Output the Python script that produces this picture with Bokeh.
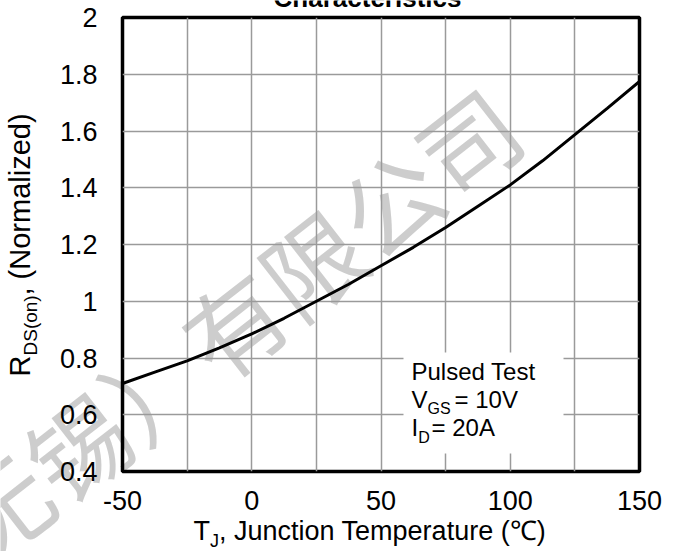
from bokeh.plotting import figure
from bokeh.models import FixedTicker, Label
from bokeh.embed import file_html
from bokeh.resources import INLINE

# ---- data ----
temp_c = [-50, -37.5, -25, -12.5, 0, 12.5, 25, 37.5, 50, 62.5, 75, 87.5, 100, 112.5, 125, 137.5, 150]
rds_norm = [0.71, 0.75, 0.79, 0.836, 0.885, 0.94, 1.0, 1.06, 1.125, 1.19, 1.26, 1.335, 1.41, 1.495, 1.587, 1.68, 1.775]

x_ticks = [-50, 0, 50, 100, 150]
x_tick_labels = ["-50", "0", "50", "100", "150"]
x_grid = [-50, -25, 0, 25, 50, 75, 100, 125, 150]
y_ticks = [0.4, 0.6, 0.8, 1.0, 1.2, 1.4, 1.6, 1.8, 2.0]
y_tick_labels = ["0.4", "0.6", "0.8", "1", "1.2", "1.4", "1.6", "1.8", "2"]

title_text = "Characteristics"
legend_lines = ["Pulsed Test", "V", "GS", "= 10V", "I", "D", "= 20A"]
x_label_parts = ["T", "J", ", Junction Temperature (℃)"]
y_label_parts = ["R", "DS(on)", ", (Normalized)"]
watermark = "无锡）有限公司"

# ---- layout (canvas pixels) ----
W, H = 680, 551
FL, FR, FT, FB = 122, 639, 17, 471
X0, X1, Y0, Y1 = -50, 150, 0.4, 2.0
FONT = "Liberation Sans"
BL = 0.38  # measured drop of the drawn baseline below a Label anchor, in em


def dx(px):
    return X0 + (px - FL) / (FR - FL) * (X1 - X0)


def dy(py):
    return Y1 - (py - FT) / (FB - FT) * (Y1 - Y0)


# ---------- base canvas: watermark and texts outside the plot frame ----------
ov = figure(width=W, height=H, x_range=(0, W), y_range=(H, 0),
            x_axis_type=None, y_axis_type=None, toolbar_location=None,
            title=None, min_border=0, output_backend="svg")
ov.outline_line_color = None
ov.background_fill_color = "white"
ov.border_fill_color = "white"


def olab(px, py, text, size, bold=False, rotated=False, align="left"):
    if rotated:
        px = px - BL * size
    else:
        py = py - BL * size
    ov.add_layout(Label(x=px, y=py, text=text, text_font=FONT,
                        text_font_size=f"{size}px",
                        text_font_style="bold" if bold else "normal",
                        text_align=align, text_baseline="alphabetic",
                        text_color="black", angle=90 if rotated else 0,
                        angle_units="deg"))


ov.add_layout(Label(x=232, y=322, text=watermark, angle=38, angle_units="deg",
                    text_align="center", text_baseline="middle",
                    text_font="Noto Sans CJK SC", text_font_size="99px",
                    text_color="#c8c8c8", text_alpha=0.9))

# title (cut at top edge)
olab(367, 7, title_text, 26, bold=True, align="center")

# x axis label
olab(193, 541, x_label_parts[0], 27)
olab(193 + 16.5, 547, x_label_parts[1], 18)
olab(193 + 16.5 + 9.0, 541, x_label_parts[2], 27)

# y axis label (rotated, baselines at given x)
yb = 376
olab(31, yb, y_label_parts[0], 29, rotated=True)
olab(37.5, yb - 21, y_label_parts[1], 19, rotated=True)
olab(31, yb - 21 - 60, y_label_parts[2], 29, rotated=True)

# ---------- plot frame on top ----------
p = figure(width=W, height=H, x_range=(X0, X1), y_range=(Y0, Y1),
           output_backend="svg", toolbar_location=None, title=None,
           min_border_left=FL, min_border_right=W - FR,
           min_border_top=FT, min_border_bottom=H - FB,
           styles={"position": "absolute", "top": "0px", "left": "0px"})
p.background_fill_color = None
p.border_fill_color = None
p.outline_line_color = "black"
p.outline_line_width = 3.5

p.xaxis.ticker = FixedTicker(ticks=x_ticks)
p.xaxis.major_label_overrides = {t: s for t, s in zip(x_ticks, x_tick_labels)}
p.yaxis.ticker = FixedTicker(ticks=y_ticks)
p.yaxis.major_label_overrides = {t: s for t, s in zip(y_ticks, y_tick_labels)}
p.xgrid.ticker = FixedTicker(ticks=x_grid)
p.ygrid.ticker = FixedTicker(ticks=y_ticks)
for g in (p.xgrid, p.ygrid):
    g.grid_line_color = "#9a9a9a"
    g.grid_line_width = 1.5

for ax in (p.xaxis, p.yaxis):
    ax.axis_line_color = None
    ax.major_tick_line_color = None
    ax.minor_tick_line_color = None
    ax.major_tick_out = 0
    ax.major_tick_in = 0
    ax.major_label_text_font = FONT
    ax.major_label_text_font_size = "27px"
    ax.major_label_text_color = "black"
p.xaxis.major_label_standoff = 19
p.yaxis.major_label_standoff = 25

# legend box
p.quad(left=[dx(403)], right=[dx(563)], bottom=[dy(453)], top=[dy(352)],
       fill_color="white", line_color=None)

p.line(temp_c, rds_norm, line_color="black", line_width=3)


def lab(px, py, text, size):
    p.add_layout(Label(x=dx(px), y=dy(py - BL * size), text=text, text_font=FONT,
                       text_font_size=f"{size}px", text_align="left",
                       text_baseline="alphabetic", text_color="black"))


lab(411, 380, legend_lines[0], 24)
lab(411, 408, legend_lines[1], 24)
lab(411 + 16.0, 414.5, legend_lines[2], 16)
lab(454, 408, legend_lines[3], 24)
lab(411, 436.5, legend_lines[4], 24)
lab(411 + 6.7, 443, legend_lines[5], 16)
lab(431, 436.5, legend_lines[6], 24)

open("out.html", "w").write(file_html((ov, p), INLINE))
